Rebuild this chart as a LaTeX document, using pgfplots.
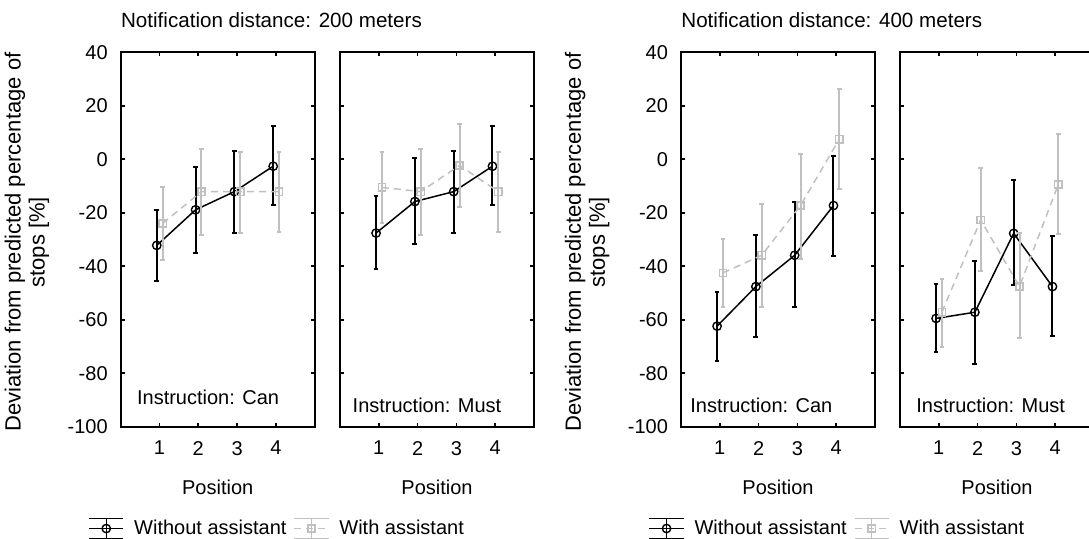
\documentclass[border=0pt]{standalone}
\usepackage{fontspec}
\setmainfont{Liberation Sans}
\usepackage{pgfplots}
\usepackage{pgfplotstable}
\pgfplotsset{compat=1.18}
\definecolor{lgray}{RGB}{192,192,192}

% Notification 200 m, Instruction Can
\pgfplotstableread{
x y ep em
0.93 -32.2 13.3 13.4
1.93 -18.9 16.1 16.3
2.93 -12.1 15.3 15.6
3.93 -2.6 15.2 14.6
}\pAb
\pgfplotstableread{
x y ep em
1.08 -24.0 13.6 13.5
2.08 -12.1 16.0 16.2
3.08 -12.1 15.0 15.6
4.08 -12.1 14.7 15.2
}\pAg
% 200 m, Must
\pgfplotstableread{
x y ep em
0.93 -27.6 13.7 13.3
1.93 -15.8 16.3 15.9
2.93 -12.1 15.3 15.6
3.93 -2.6 15.2 14.6
}\pBb
\pgfplotstableread{
x y ep em
1.08 -10.5 13.3 13.5
2.08 -12.1 16.0 16.2
3.08 -2.3 15.4 15.5
4.08 -12.1 14.7 15.2
}\pBg
% 400 m, Can
\pgfplotstableread{
x y ep em
0.93 -62.4 12.6 12.9
1.93 -47.6 19.4 19.0
2.93 -35.9 19.8 19.5
3.93 -17.3 18.7 18.9
}\pCb
\pgfplotstableread{
x y ep em
1.08 -42.5 12.8 12.9
2.08 -35.9 19.3 19.2
3.08 -17.3 19.3 19.9
4.08 7.5 18.8 18.7
}\pCg
% 400 m, Must
\pgfplotstableread{
x y ep em
0.93 -59.5 13.0 12.5
1.93 -57.2 19.2 19.4
2.93 -27.7 19.8 19.4
3.93 -47.6 18.8 18.4
}\pDb
\pgfplotstableread{
x y ep em
1.08 -57.2 12.6 12.9
2.08 -22.7 19.6 19.1
3.08 -47.6 19.9 19.4
4.08 -9.4 18.9 18.4
}\pDg

\pgfplotsset{
  panel/.style={
    scale only axis, width=97pt, height=187.2pt,
    xmin=0, xmax=5, ymin=-100, ymax=40,
    xtick={1,2,3,4}, ytick={-100,-80,...,40},
    tick align=inside, major tick length=2pt,
    clip mode=individual,
    axis line style={line width=0.85pt},
    every tick/.style={black, line width=0.8pt},
    /pgf/number format/assume math mode=true,
    font=\fontsize{10}{12}\selectfont,
    yticklabel style={xshift=-3pt},
    xticklabel style={yshift=-3.7pt},
    xlabel={Position},
    every axis x label/.style={at={(axis description cs:0.5,0)}, anchor=center, yshift=-30.4pt},
    every axis y label/.style={at={(axis description cs:-0.4835,0.493)}, rotate=90, anchor=center, align=center, font=\fontsize{11}{12}\selectfont},
    legend style={draw=none, fill=none, inner sep=0pt, outer sep=0pt,
      nodes={inner sep=0pt, font=\fontsize{10}{12}\selectfont},
      legend columns=2,
      /tikz/every odd column/.append style={column sep=5pt},
      /tikz/every even column/.append style={column sep=3.5pt}},
    legend cell align=left,
  },
  wo/.style={black, line width=0.75pt, mark=o, mark size=2.1pt,
    mark options={solid, line width=0.7pt},
    error bars/y dir=both, error bars/y explicit,
    error bars/error bar style={line width=1pt, black, solid},
    error bars/error mark options={rotate=90, mark size=1.2pt, line width=1pt, black}},
  wi/.style={lgray, line width=0.75pt, dash pattern=on 3.5pt off 2.5pt,
    mark=square, mark size=1.8pt, mark options={solid, line width=0.7pt},
    error bars/y dir=both, error bars/y explicit,
    error bars/error bar style={line width=1pt, lgray, solid},
    error bars/error mark options={rotate=90, mark size=1.2pt, line width=1pt, lgray}},
  woleg/.style={legend image code/.code={
      \draw[##1, mark=none] (0pt,0pt) -- (17.2pt,0pt);
      \draw[##1, mark=none, solid] (8.6pt,-5pt) -- (8.6pt,5pt) (0pt,-5pt) -- (17.2pt,-5pt) (0pt,5pt) -- (17.2pt,5pt);
      \draw[##1, only marks] plot coordinates {(8.6pt,0pt)};
    }},
}

\begin{document}
\begin{tikzpicture}
\useasboundingbox (0,0) rectangle (544.5pt,269pt);

% ---------- 200 m, Can ----------
\begin{axis}[panel, at={(60.35pt,55.65pt)}, anchor=south west,
  ylabel={Deviation from predicted percentage of\\stops [\%]},
  legend style={at={(axis description cs:-0.167,-0.272)}, anchor=west}]
\addplot[woleg, wo] table[x=x, y=y, y error plus=ep, y error minus=em] {\pAb};
\addlegendentry{Without assistant}
\addplot[woleg, wi] table[x=x, y=y, y error plus=ep, y error minus=em] {\pAg};
\addlegendentry{With assistant}
\node[anchor=base west, inner sep=0pt] at ([xshift=8pt, yshift=11.35pt]rel axis cs:0,0) {Instruction: Can};
\node[anchor=base west, inner sep=0pt, font=\fontsize{10.3}{12}\selectfont] at ([yshift=12.3pt]rel axis cs:0,1) {Notification distance: 200 meters};
\end{axis}

% ---------- 200 m, Must ----------
\begin{axis}[panel, at={(170pt,55.65pt)}, anchor=south west, yticklabels={}]
\addplot[wo] table[x=x, y=y, y error plus=ep, y error minus=em] {\pBb};
\addplot[wi] table[x=x, y=y, y error plus=ep, y error minus=em] {\pBg};
\node[anchor=base west, inner sep=0pt] at ([xshift=6.15pt, yshift=7.1pt]rel axis cs:0,0) {Instruction: Must};
\end{axis}

% ---------- 400 m, Can ----------
\begin{axis}[panel, at={(340.5pt,55.65pt)}, anchor=south west,
  ylabel={Deviation from predicted percentage of\\stops [\%]},
  legend style={at={(axis description cs:-0.167,-0.272)}, anchor=west}]
\addplot[woleg, wo] table[x=x, y=y, y error plus=ep, y error minus=em] {\pCb};
\addlegendentry{Without assistant}
\addplot[woleg, wi] table[x=x, y=y, y error plus=ep, y error minus=em] {\pCg};
\addlegendentry{With assistant}
\node[anchor=base west, inner sep=0pt] at ([xshift=4.5pt, yshift=7.1pt]rel axis cs:0,0) {Instruction: Can};
\node[anchor=base west, inner sep=0pt, font=\fontsize{10.3}{12}\selectfont] at ([yshift=12.3pt]rel axis cs:0,1) {Notification distance: 400 meters};
\end{axis}

% ---------- 400 m, Must ----------
\begin{axis}[panel, at={(450pt,55.65pt)}, anchor=south west, yticklabels={}]
\addplot[wo] table[x=x, y=y, y error plus=ep, y error minus=em] {\pDb};
\addplot[wi] table[x=x, y=y, y error plus=ep, y error minus=em] {\pDg};
\node[anchor=base west, inner sep=0pt] at ([xshift=8pt, yshift=7.1pt]rel axis cs:0,0) {Instruction: Must};
\end{axis}
\end{tikzpicture}
\end{document}
